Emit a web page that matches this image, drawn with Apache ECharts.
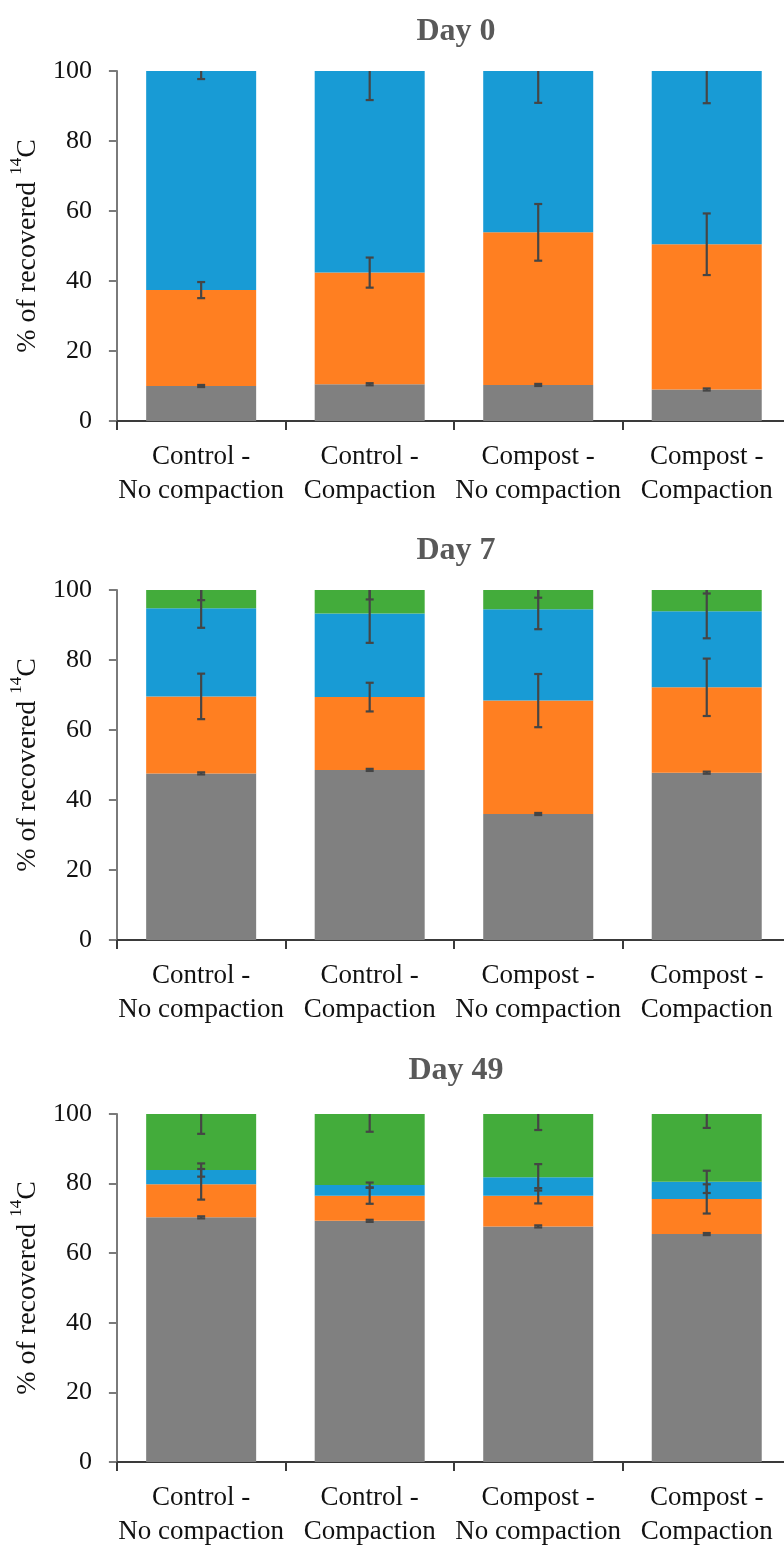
<!DOCTYPE html>
<html>
<head>
<meta charset="utf-8">
<script src="https://cdn.jsdelivr.net/npm/echarts@6/dist/echarts.min.js"></script>
<style>
html,body{margin:0;padding:0;background:#fff;overflow:hidden;}
#chart{width:800px;height:1549px;}
</style>
</head>
<body>
<div id="chart"></div>
<script>
// ---------- data ----------
const categories = ['Control -\nNo compaction', 'Control -\nCompaction', 'Compost -\nNo compaction', 'Compost -\nCompaction'];
const panelTitles = ['Day 0', 'Day 7', 'Day 49'];
const yTicks = [0, 20, 40, 60, 80, 100];
const segmentNames = ['Fraction 1', 'Fraction 2', 'Fraction 3', 'Fraction 4'];

// Day 0
const day0Gray   = [10.0, 10.5, 10.3, 9.0];
const day0Orange = [27.4, 31.9, 43.6, 41.5];
const day0Blue   = [62.6, 57.6, 46.1, 49.5];
const day0Green  = [0, 0, 0, 0];
const day0GrayErr   = [0.3, 0.3, 0.3, 0.3];
const day0OrangeErr = [2.3, 4.3, 8.1, 8.8];
const day0BlueErr   = [2.3, 8.3, 9.1, 9.2];
const day0GreenErr  = [0, 0, 0, 0];

// Day 7
const day7Gray   = [47.6, 48.6, 36.0, 47.8];
const day7Orange = [22.0, 20.8, 32.4, 24.4];
const day7Blue   = [25.2, 23.9, 26.1, 21.7];
const day7Green  = [5.2, 6.7, 5.5, 6.1];
const day7GrayErr   = [0.3, 0.3, 0.3, 0.3];
const day7OrangeErr = [6.5, 4.1, 7.6, 8.2];
const day7BlueErr   = [5.6, 8.4, 5.7, 7.7];
const day7GreenErr  = [2.9, 2.7, 2.2, 1.0];

// Day 49
const day49Gray   = [70.3, 69.3, 67.7, 65.5];
const day49Orange = [9.5, 7.2, 8.8, 10.1];
const day49Blue   = [4.1, 3.1, 5.3, 4.9];
const day49Green  = [16.1, 20.4, 18.2, 19.5];
const day49GrayErr   = [0.3, 0.3, 0.3, 0.3];
const day49OrangeErr = [4.4, 2.3, 2.2, 4.2];
const day49BlueErr   = [1.9, 0.7, 3.8, 3.2];
const day49GreenErr  = [5.7, 5.1, 4.6, 4.0];

const panels = [
  { values: [day0Gray, day0Orange, day0Blue, day0Green], errors: [day0GrayErr, day0OrangeErr, day0BlueErr, day0GreenErr] },
  { values: [day7Gray, day7Orange, day7Blue, day7Green], errors: [day7GrayErr, day7OrangeErr, day7BlueErr, day7GreenErr] },
  { values: [day49Gray, day49Orange, day49Blue, day49Green], errors: [day49GrayErr, day49OrangeErr, day49BlueErr, day49GreenErr] }
];

// ---------- style ----------
const colors = ['#808080', '#FF7F21', '#189BD5', '#43AC3B'];
const FONT = "'Liberation Serif', 'Times New Roman', serif";
const gridTops = [71, 590, 1114];
const titleTops = [11, 530, 1050];
const gridH = 350;
const gridLeft = 111;
const gridW = 680;

const chart = echarts.init(document.getElementById('chart'), null, { renderer: 'canvas' });

const grids = [], xAxes = [], yAxes = [], series = [], titles = [];

panels.forEach((p, pi) => {
  grids.push({ left: gridLeft, top: gridTops[pi], width: gridW, height: gridH, containLabel: false });
  titles.push({
    text: panelTitles[pi], left: gridLeft + gridW / 2, top: titleTops[pi], textAlign: 'center',
    textStyle: { fontFamily: FONT, fontSize: 32, fontWeight: 'bold', color: '#595959' }
  });
  xAxes.push({
    type: 'category', gridIndex: pi, data: categories,
    axisLine: { lineStyle: { color: '#3a3a3a', width: 2 } },
    axisTick: { show: true, length: 9, lineStyle: { color: '#3a3a3a', width: 2 } },
    axisLabel: { fontFamily: FONT, fontSize: 27, color: '#111', lineHeight: 34, margin: 19, interval: 0 }
  });
  yAxes.push({
    type: 'value', gridIndex: pi, min: 0, max: 100, interval: 20,
    name: '{a|% of recovered }{s|14}{a|C}', nameLocation: 'middle', nameGap: 72,
    nameTextStyle: {
      rich: {
        a: { fontFamily: FONT, fontSize: 28, color: '#111', lineHeight: 34, verticalAlign: 'bottom' },
        s: { fontFamily: FONT, fontSize: 17, color: '#111', lineHeight: 34, verticalAlign: 'top', padding: [0, 0, 12, 0] }
      }
    },
    axisLine: { show: true, lineStyle: { color: '#7a7a7a', width: 2 } },
    axisTick: { show: true, length: 8, lineStyle: { color: '#7a7a7a', width: 2 } },
    splitLine: { show: false },
    axisLabel: { fontFamily: FONT, fontSize: 26, color: '#111', margin: 25, formatter: v => (yTicks.includes(v) ? String(v) : '') }
  });

  p.values.forEach((vals, si) => {
    series.push({
      name: segmentNames[si], type: 'bar', stack: 'day' + pi, xAxisIndex: pi, yAxisIndex: pi,
      barWidth: 110, data: vals,
      itemStyle: { color: colors[si] }, emphasis: { disabled: true }, animation: false
    });
  });

  // error bars at each cumulative segment top
  const errData = [];
  categories.forEach((c, ci) => {
    let cum = 0;
    p.values.forEach((vals, si) => {
      cum += vals[ci];
      const e = p.errors[si][ci];
      if (vals[ci] > 0 && e > 0) errData.push([ci, cum - e, cum + e]);
    });
  });
  series.push({
    type: 'custom', xAxisIndex: pi, yAxisIndex: pi, z: 10, animation: false,
    data: errData,
    renderItem: (params, api) => {
      const ci = api.value(0);
      const lo = Math.max(0, api.value(1));
      const hi = Math.min(100, api.value(2));
      const pLo = api.coord([ci, lo]);
      const pHi = api.coord([ci, hi]);
      const capHalf = 4;
      const style = { stroke: '#454545', lineWidth: 2.2 };
      const children = [
        { type: 'line', shape: { x1: pLo[0], y1: pLo[1], x2: pHi[0], y2: pHi[1] }, style },
        { type: 'line', shape: { x1: pLo[0] - capHalf, y1: pLo[1], x2: pLo[0] + capHalf, y2: pLo[1] }, style }
      ];
      if (api.value(2) <= 100) {
        children.push({ type: 'line', shape: { x1: pHi[0] - capHalf, y1: pHi[1], x2: pHi[0] + capHalf, y2: pHi[1] }, style });
      }
      return { type: 'group', children };
    }
  });
});

chart.setOption({
  backgroundColor: '#fff',
  animation: false,
  title: titles,
  grid: grids,
  xAxis: xAxes,
  yAxis: yAxes,
  series: series
});
</script>
</body>
</html>
